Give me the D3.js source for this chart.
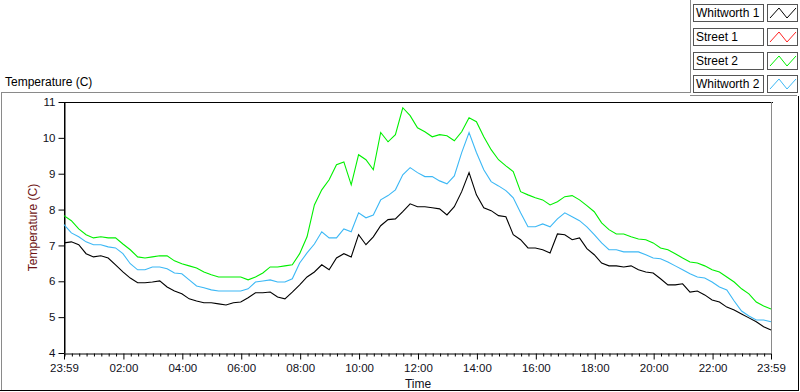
<!DOCTYPE html>
<html>
<head>
<meta charset="utf-8">
<script src="https://cdn.jsdelivr.net/npm/d3@7"></script>
<style>
  body { margin: 0; background: #fff; }
  svg { display: block; font-family: "Liberation Sans", Arial, sans-serif; }
</style>
</head>
<body>
<svg id="chart" width="800" height="392"></svg>
<script>
// series names + colours (legend order)
var seriesNames = ["Whitworth 1", "Street 1", "Street 2", "Whitworth 2"];
var seriesColors = ["#000000", "#ff2020", "#00f000", "#3cb8f5"];

// readings every 15 minutes, 23:59 -> 23:59 next day (97 points)
var whitworth1 = [
  7.07,7.10,7.02,6.77,6.68,6.71,6.65,6.46,6.26,6.09,
  5.96,5.96,5.98,6.01,5.84,5.73,5.65,5.51,5.45,5.40,
  5.40,5.37,5.34,5.40,5.42,5.54,5.68,5.68,5.70,5.56,
  5.51,5.70,5.90,6.12,6.26,6.46,6.32,6.65,6.77,6.68,
  7.30,7.02,7.24,7.55,7.72,7.74,7.94,8.16,8.08,8.08,
  8.05,8.02,7.85,8.08,8.50,9.03,8.41,8.05,7.97,7.83,
  7.80,7.30,7.16,6.93,6.93,6.88,6.79,7.32,7.30,7.16,
  7.21,6.91,6.74,6.51,6.43,6.43,6.40,6.43,6.32,6.26,
  6.23,6.07,5.90,5.90,5.93,5.70,5.73,5.62,5.48,5.42,
  5.28,5.20,5.09,4.98,4.87,4.73,4.64
];
var street1 = []; // no data logged
var street2 = [
  7.83,7.69,7.46,7.30,7.21,7.24,7.21,7.21,7.04,6.88,
  6.68,6.65,6.68,6.71,6.71,6.57,6.49,6.43,6.37,6.26,
  6.18,6.12,6.12,6.12,6.12,6.04,6.12,6.23,6.40,6.40,
  6.43,6.46,6.77,7.24,8.13,8.55,8.83,9.25,9.33,8.69,
  9.53,9.39,9.11,10.15,9.89,10.09,10.84,10.62,10.28,10.17,
  10.03,10.09,10.06,9.92,10.17,10.56,10.45,10.03,9.67,9.39,
  9.22,9.06,8.50,8.41,8.33,8.27,8.13,8.22,8.36,8.39,
  8.27,8.11,7.94,7.63,7.44,7.32,7.32,7.24,7.18,7.16,
  7.07,6.93,6.88,6.77,6.65,6.54,6.51,6.43,6.32,6.26,
  6.12,5.98,5.79,5.65,5.42,5.31,5.23
];
var whitworth2 = [
  7.58,7.35,7.24,7.10,7.02,7.02,6.96,6.93,6.77,6.49,
  6.32,6.32,6.40,6.40,6.35,6.23,6.21,6.04,5.87,5.82,
  5.76,5.73,5.73,5.73,5.73,5.79,5.98,6.01,6.04,5.98,
  5.98,6.07,6.51,6.79,7.04,7.38,7.21,7.21,7.46,7.38,
  7.91,7.77,7.85,8.27,8.39,8.55,8.97,9.17,9.03,8.92,
  8.92,8.80,8.72,8.94,9.59,10.15,9.59,9.11,8.78,8.66,
  8.53,8.33,7.91,7.52,7.52,7.60,7.52,7.74,7.91,7.80,
  7.69,7.52,7.30,7.07,6.88,6.88,6.82,6.82,6.82,6.74,
  6.65,6.63,6.54,6.43,6.32,6.21,6.12,6.09,5.98,5.84,
  5.76,5.45,5.17,5.03,4.92,4.92,4.87
];
var allSeries = [whitworth1, street1, street2, whitworth2];

var yTicks = [4, 5, 6, 7, 8, 9, 10, 11];
var xTickLabels = ["23:59","02:00","04:00","06:00","08:00","10:00","12:00",
                   "14:00","16:00","18:00","20:00","22:00","23:59"];

var svg = d3.select("#chart");
var plotLeft = 64, plotRight = 771, plotTop = 102, plotBottom = 353;

var t0 = new Date(2014, 0, 1, 23, 59), t1 = new Date(2014, 0, 2, 23, 59);
var x = d3.scaleTime().domain([t0, t1]).range([plotLeft, plotRight]);
var y = d3.scaleLinear().domain([4, 11]).range([plotBottom, plotTop]);

function timeAt(i) { return new Date(t0.getTime() + i * 15 * 60000); }

// outer frame (LabVIEW style)
var frame = svg.append("g").attr("shape-rendering", "crispEdges").attr("fill", "none");
frame.append("path").attr("stroke", "#8a8a8a").attr("d", "M1.5,390 V92.5 H690.5 V0");
frame.append("path").attr("stroke", "#8a8a8a").attr("d", "M690,95.5 H797");
frame.append("path").attr("stroke", "#000").attr("d", "M0,390.5 H798.5 V96");

svg.append("text").attr("x", 5).attr("y", 86).attr("font-size", 12).text("Temperature (C)");

// plot border
var pb = svg.append("g").attr("shape-rendering", "crispEdges").attr("fill", "none");
pb.append("path").attr("stroke", "#000")
  .attr("d", "M" + (plotLeft + 0.5) + "," + plotBottom + " V" + (plotTop + 0.5) + " H" + (plotRight + 1.5));
pb.append("path").attr("stroke", "#8a8a8a")
  .attr("d", "M" + (plotRight + 0.5) + "," + plotTop + " V" + plotBottom);

// axes
var majorTimes = [t0].concat(d3.timeHour.every(2).range(new Date(2014, 0, 2, 2), new Date(2014, 0, 2, 23)), [t1]);
var minorTimes = d3.timeMinute.every(15).range(new Date(2014, 0, 2, 0, 0), t1)
  .filter(function(d) { return !(d.getMinutes() === 0 && d.getHours() % 2 === 0 && d.getHours() > 0); });

var minorAxis = svg.append("g")
  .attr("transform", "translate(0," + (plotBottom + 0.5) + ")")
  .call(d3.axisBottom(x).tickValues(minorTimes).tickSize(3).tickSizeOuter(0).tickFormat(""));
minorAxis.select(".domain").remove();
minorAxis.selectAll("line").attr("stroke", "#000");

var xAxis = svg.append("g")
  .attr("transform", "translate(0," + (plotBottom + 0.5) + ")")
  .call(d3.axisBottom(x).tickValues(majorTimes).tickSize(6).tickSizeOuter(0).tickPadding(4)
    .tickFormat(function(d, i) { return xTickLabels[i]; }));
xAxis.select(".domain").attr("stroke", "#000");
xAxis.selectAll("text").attr("font-size", 11.5).attr("font-family", "Liberation Sans, Arial, sans-serif").attr("fill", "#101020");
xAxis.selectAll("line").attr("stroke", "#000");

var yAxis = svg.append("g")
  .attr("transform", "translate(" + (plotLeft + 0.5) + ",0)")
  .call(d3.axisLeft(y).tickValues(yTicks).tickSize(6).tickSizeOuter(0).tickPadding(3).tickFormat(d3.format("d")));
yAxis.select(".domain").attr("stroke", "#000");
yAxis.selectAll("line").attr("stroke", "#000");
yAxis.selectAll("text").attr("font-size", 11.5).attr("font-family", "Liberation Sans, Arial, sans-serif").attr("fill", "#101020");

svg.append("text").attr("transform", "translate(37," + ((plotTop + plotBottom) / 2) + ") rotate(-90)")
  .attr("text-anchor", "middle").attr("font-size", 12).attr("fill", "#6e1414").text("Temperature (C)");
svg.append("text").attr("x", 418).attr("y", 388).attr("text-anchor", "middle")
  .attr("font-size", 12).attr("fill", "#101020").text("Time");

// series lines
var line = d3.line()
  .x(function(d, i) { return x(timeAt(i)); })
  .y(function(d) { return y(d); });

var plot = svg.append("g");
[2, 3, 1, 0].forEach(function(k) {
  if (!allSeries[k].length) return;
  plot.append("path")
    .datum(allSeries[k])
    .attr("fill", "none")
    .attr("stroke", seriesColors[k])
    .attr("stroke-width", 1.1)
    .attr("d", line);
});

// legend
var rowTop = [4, 28, 52, 75];
var leg = svg.append("g").selectAll("g")
  .data(seriesNames)
  .enter().append("g")
    .attr("transform", function(d, i) { return "translate(0," + rowTop[i] + ")"; });

leg.append("rect").attr("x", 693.5).attr("y", 0.5).attr("width", 70).attr("height", 17)
  .attr("fill", "#fff").attr("stroke", "#555").attr("shape-rendering", "crispEdges");
leg.append("text").attr("x", 696).attr("y", 13).attr("font-size", 12).attr("fill", "#000")
  .text(function(d) { return d; });
leg.append("rect").attr("x", 767.5).attr("y", 0.5).attr("width", 30).attr("height", 17)
  .attr("fill", "#fff").attr("stroke", "#555").attr("shape-rendering", "crispEdges");
leg.append("path")
  .attr("fill", "none")
  .attr("stroke", function(d, i) { return seriesColors[i]; })
  .attr("d", "M770,14 L779,4 L787,14 L796,4");
</script>
</body>
</html>
